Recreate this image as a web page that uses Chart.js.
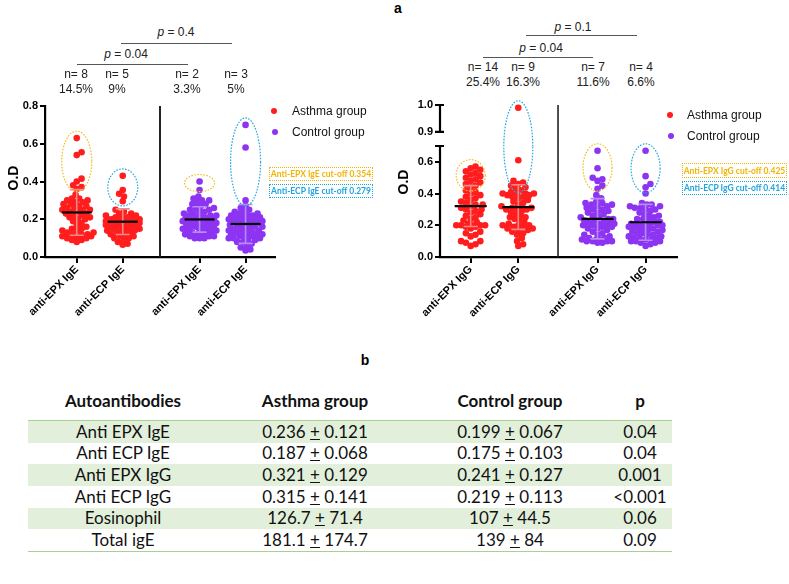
<!DOCTYPE html>
<html>
<head>
<meta charset="utf-8">
<script src="https://cdn.jsdelivr.net/npm/chart.js@4.4.1/dist/chart.umd.min.js"></script>
<style>
    body { margin: 0; width: 789px; height: 584px; position: relative; overflow: hidden; background: #fff;
           font-family: "Liberation Sans", Arial, sans-serif; color: #000; }
    canvas { position: absolute; }
    .abs { position: absolute; white-space: nowrap; }
    .mid { transform: translate(-50%, -50%); }
    .ann { font-size: 12px; color: #222; }
    .bracket { position: absolute; height: 0; border-top: 1.5px solid #555; }
    .panel { font-weight: bold; font-size: 14px; }
    .axis-title { font-weight: bold; font-size: 14px; transform: translate(-50%, -50%) rotate(-90deg); }
    .legend { font-size: 12px; color: #111; transform: translateY(-50%); }
    .dot { position: absolute; width: 6px; height: 6px; border-radius: 50%; transform: translate(-50%, -50%); }
    .cutoff { position: absolute; box-sizing: border-box; border: 1px dotted; font-family: Lato, sans-serif;
              font-weight: bold; font-size: 8.5px; white-space: nowrap; overflow: visible;
              display: flex; align-items: center; justify-content: center; }
    table { position: absolute; left: 28px; top: 388px; width: 644px; border-collapse: collapse;
            font-family: Lato, sans-serif; font-size: 17px; color: #111; }
    th { font-weight: bold; font-size: 17px; height: 24px; padding: 0 0 8px 0; border-bottom: 1px solid #a9d08e; }
    td { height: 21.67px; padding: 0; text-align: center; line-height: 20px; }
    tr.shade td { background: #e2efda; }
    tr:last-child td { border-bottom: 1px solid #a9d08e; }
</style>
</head>
<body>
<canvas id="igeChart" style="left:0px; top:95px;"></canvas>
<canvas id="iggChart" style="left:395px; top:94px;"></canvas>

<script>
// ---- table values (also used for the mean / SD marks) ----
const tableMarkers = ['Anti EPX IgE', 'Anti ECP IgE', 'Anti EPX IgG', 'Anti ECP IgG', 'Eosinophil', 'Total igE'];
const asthmaMeans = ['0.236', '0.187', '0.321', '0.315', '126.7', '181.1'];
const asthmaSds = ['0.121', '0.068', '0.129', '0.141', '71.4', '174.7'];
const controlMeans = ['0.199', '0.175', '0.241', '0.219', '107', '139'];
const controlSds = ['0.067', '0.103', '0.127', '0.113', '44.5', '84'];
const pValues = ['0.04', '0.04', '0.001', '<0.001', '0.06', '0.09'];

// ---- dot plot values (O.D) ----
const igeLabels = ['anti-EPX IgE', 'anti-ECP IgE', 'anti-EPX IgE', 'anti-ECP IgE'];
const iggLabels = ['anti-EPX IgG', 'anti-ECP IgG', 'anti-EPX IgG', 'anti-ECP IgG'];

const asthmaEpxIgE = [0.63, 0.555, 0.54, 0.415, 0.40, 0.38, 0.37, 0.36,
    0.33, 0.31, 0.31, 0.30, 0.30, 0.29, 0.29, 0.28, 0.28, 0.27, 0.27, 0.26, 0.26, 0.25, 0.25, 0.25,
    0.24, 0.24, 0.23, 0.23, 0.22, 0.22, 0.21, 0.21, 0.20, 0.20, 0.19, 0.18, 0.17, 0.16, 0.15, 0.15,
    0.14, 0.14, 0.13, 0.13, 0.12, 0.12, 0.12, 0.11, 0.11, 0.11, 0.10, 0.10, 0.09, 0.09, 0.08];
const asthmaEcpIgE = [0.43, 0.355, 0.335, 0.32, 0.295,
    0.25, 0.24, 0.23, 0.23, 0.22, 0.22, 0.21, 0.21, 0.21, 0.20, 0.20, 0.20, 0.20, 0.20,
    0.19, 0.19, 0.19, 0.19, 0.19, 0.19, 0.18, 0.18, 0.18, 0.18, 0.18, 0.17, 0.17, 0.17, 0.17,
    0.16, 0.16, 0.16, 0.15, 0.15, 0.15, 0.14, 0.14, 0.14, 0.13, 0.13, 0.12, 0.12, 0.11, 0.11,
    0.10, 0.10, 0.09, 0.08, 0.07, 0.065];
const controlEpxIgE = [0.40, 0.355,
    0.32, 0.31, 0.30, 0.30, 0.29, 0.28, 0.28, 0.27, 0.26, 0.26, 0.25, 0.25, 0.24, 0.24, 0.23, 0.23,
    0.22, 0.22, 0.22, 0.21, 0.21, 0.21, 0.20, 0.20, 0.20, 0.20, 0.20, 0.19, 0.19, 0.19, 0.19,
    0.18, 0.18, 0.18, 0.17, 0.17, 0.17, 0.16, 0.16, 0.16, 0.15, 0.15, 0.15, 0.14, 0.14, 0.14,
    0.13, 0.13, 0.13, 0.12, 0.12, 0.12, 0.11, 0.11, 0.11, 0.10, 0.10, 0.10];
const controlEcpIgE = [0.70, 0.58, 0.30,
    0.27, 0.26, 0.25, 0.24, 0.24, 0.23, 0.23, 0.22, 0.22, 0.22, 0.21, 0.21, 0.21, 0.20, 0.20, 0.20, 0.20,
    0.19, 0.19, 0.19, 0.18, 0.18, 0.18, 0.17, 0.17, 0.17, 0.16, 0.16, 0.16, 0.15, 0.15, 0.15,
    0.14, 0.14, 0.14, 0.13, 0.13, 0.13, 0.12, 0.12, 0.12, 0.12, 0.11, 0.11, 0.11, 0.10, 0.10, 0.10,
    0.09, 0.09, 0.08, 0.08, 0.07, 0.06, 0.05, 0.04, 0.035];

const asthmaEpxIgG = [0.57, 0.56, 0.55, 0.54, 0.53, 0.52, 0.51, 0.50, 0.49, 0.48, 0.47, 0.46, 0.45, 0.44,
    0.42, 0.41, 0.40, 0.39, 0.38, 0.37, 0.36, 0.35, 0.34, 0.33, 0.33, 0.32, 0.31, 0.30, 0.30,
    0.29, 0.28, 0.27, 0.26, 0.25, 0.24, 0.23, 0.22, 0.21, 0.20, 0.20, 0.20, 0.20, 0.20,
    0.19, 0.19, 0.18, 0.16, 0.15, 0.14, 0.13, 0.10, 0.10, 0.09, 0.08, 0.07];
const asthmaEcpIgG = [0.99, 0.61, 0.48, 0.47, 0.46, 0.45, 0.44, 0.43, 0.42,
    0.41, 0.40, 0.40, 0.40, 0.40, 0.39, 0.39, 0.38, 0.38, 0.37, 0.36, 0.35, 0.34, 0.33, 0.32, 0.31,
    0.31, 0.30, 0.30, 0.30, 0.29, 0.28, 0.27, 0.26, 0.25, 0.25, 0.24, 0.23, 0.22, 0.21,
    0.20, 0.20, 0.20, 0.19, 0.19, 0.18, 0.18, 0.17, 0.17, 0.16, 0.15, 0.14, 0.12, 0.10, 0.08, 0.07];
const controlEpxIgG = [0.67, 0.56, 0.50, 0.49, 0.48, 0.45, 0.43,
    0.39, 0.37, 0.35, 0.34, 0.34, 0.33, 0.33, 0.32, 0.32, 0.31, 0.30, 0.30, 0.29, 0.28, 0.28,
    0.27, 0.26, 0.25, 0.25, 0.24, 0.24, 0.23, 0.23, 0.22, 0.22, 0.21, 0.21, 0.21, 0.20, 0.20, 0.20, 0.20,
    0.19, 0.19, 0.18, 0.18, 0.17, 0.16, 0.15, 0.14, 0.14, 0.13, 0.12, 0.12, 0.11, 0.11, 0.11,
    0.10, 0.10, 0.10, 0.10, 0.09, 0.09];
const controlEcpIgG = [0.67, 0.51, 0.46, 0.44,
    0.40, 0.34, 0.33, 0.33, 0.32, 0.32, 0.31, 0.31, 0.30, 0.30, 0.29, 0.28, 0.27, 0.26, 0.26,
    0.25, 0.24, 0.24, 0.23, 0.22, 0.22, 0.22, 0.21, 0.21, 0.21, 0.20, 0.20, 0.20, 0.20,
    0.19, 0.19, 0.18, 0.18, 0.18, 0.17, 0.17, 0.16, 0.16, 0.15, 0.15, 0.14, 0.14, 0.13, 0.13,
    0.12, 0.12, 0.12, 0.11, 0.11, 0.10, 0.10, 0.10, 0.09, 0.09, 0.08, 0.07];

const igeCutoffs = [0.354, 0.279];   // EPX, ECP
const iggCutoffs = [0.425, 0.414];
const igeYTicks = [0, 0.2, 0.4, 0.6, 0.8];
const iggYTicksLow = [0, 0.2, 0.4, 0.6];
const iggYTicksHigh = [0.9, 1.0];

const igeAbove = [8, 5, 2, 3];
const igeAbovePct = ['14.5%', '9%', '3.3%', '5%'];
const iggAbove = [14, 9, 7, 4];
const iggAbovePct = ['25.4%', '16.3%', '11.6%', '6.6%'];

// ---- styling ----
const ASTHMA_RED = '#ff1d1d';
const CONTROL_PURPLE = '#8d34f2';
const ASTHMA_SD = '#ef8a8a';
const CONTROL_SD = '#b68cf3';
const EPX_GOLD = '#f5bd22';
const ECP_BLUE = '#25a8e2';
const SWARM_GAP = 4.8;
const SWARM_STEP = 1.2;
const SWARM_MAX = 17;

Chart.defaults.font.family = '"Liberation Sans", Arial, sans-serif';
Chart.defaults.color = '#000';

/**
 * Places the points of one group side by side (beeswarm) so they hide each other as little as possible.
 * Works in pixels, then converts back through the x scale.
 */
function swarmGroup(chart, values, center, breakAt) {
    const xs = chart.scales.x;
    const cx = xs.getPixelForValue(center);
    const order = values.map((v, i) => i).sort((a, b) => values[a] - values[b]);
    const placed = [];
    const low = [];
    const high = [];
    order.forEach(i => {
        const v = values[i];
        const onTop = v > breakAt;
        const py = (onTop ? chart.scales.yTop : chart.scales.y).getPixelForValue(v);
        let best = cx;
        let bestDist = -1;
        for (let k = 0; Math.ceil(k / 2) * SWARM_STEP <= SWARM_MAX; k++) {
            const tx = cx + (k % 2 ? 1 : -1) * Math.ceil(k / 2) * SWARM_STEP;
            let d = Infinity;
            placed.forEach(p => { d = Math.min(d, Math.hypot(p.x - tx, p.y - py)); });
            if (d >= SWARM_GAP) { best = tx; break; }
            if (d > bestDist) { bestDist = d; best = tx; }
        }
        placed.push({ x: best, y: py });
        (onTop ? high : low).push({ x: xs.getValueForPixel(best), y: v });
    });
    return { low, high };
}

// Draws the mean / SD bars, cut-off ellipses, separator and broken y axis
const dotPlotExtras = {
    id: 'dotPlotExtras',
    beforeDatasetsDraw(chart) {
        const o = chart.options.plugins.dotPlotExtras;
        const { ctx, chartArea } = chart;
        const sx = chart.scales.x.getPixelForValue(o.separatorAt);
        ctx.save();
        ctx.strokeStyle = '#222';
        ctx.lineWidth = o.separatorWidth;
        ctx.beginPath();
        ctx.moveTo(sx, chartArea.top);
        ctx.lineTo(sx, chartArea.bottom);
        ctx.stroke();
        ctx.restore();
    },
    afterDatasetsDraw(chart) {
        const o = chart.options.plugins.dotPlotExtras;
        const { ctx } = chart;
        const xs = chart.scales.x;
        const pix = v => (v > o.breakAt ? chart.scales.yTop : chart.scales.y).getPixelForValue(v);
        ctx.save();
        o.groups.forEach((values, i) => {
            const cx = xs.getPixelForValue(o.positions[i]);
            const mean = o.means[i];
            const sd = o.sds[i];
            // SD bar
            ctx.strokeStyle = i < 2 ? ASTHMA_SD : CONTROL_SD;
            ctx.lineWidth = 1.6;
            ctx.setLineDash([]);
            ctx.beginPath();
            ctx.moveTo(cx, pix(mean + sd));
            ctx.lineTo(cx, pix(mean - sd));
            [mean + sd, mean - sd].forEach(v => {
                ctx.moveTo(cx - 7, pix(v));
                ctx.lineTo(cx + 7, pix(v));
            });
            ctx.stroke();
            // mean line
            ctx.strokeStyle = '#000';
            ctx.lineWidth = 2.2;
            ctx.beginPath();
            ctx.moveTo(cx - o.meanHalf, pix(mean));
            ctx.lineTo(cx + o.meanHalf, pix(mean));
            ctx.stroke();
            // ellipse round the values above the cut-off
            const cutoff = o.cutoffs[i % 2];
            const top = pix(Math.max(...values)) - 7;
            const bottom = pix(cutoff) + 1.5;
            ctx.strokeStyle = i % 2 === 0 ? EPX_GOLD : ECP_BLUE;
            ctx.lineWidth = 1.2;
            ctx.setLineDash([1.6, 1.4]);
            ctx.beginPath();
            ctx.ellipse(cx, (top + bottom) / 2, o.ellipseHalf, Math.abs(bottom - top) / 2, 0, 0, Math.PI * 2);
            ctx.stroke();
        });
        ctx.restore();
    },
    afterDraw(chart) {
        const o = chart.options.plugins.dotPlotExtras;
        if (!o.brokenAxis) return;
        const { ctx } = chart;
        const ax = chart.chartArea.left;
        const y = chart.scales.y;
        const yTop = chart.scales.yTop;
        const segs = [[y.getPixelForValue(0), y.getPixelForValue(y.max)],
                      [yTop.getPixelForValue(iggYTicksHigh[0]), yTop.getPixelForValue(yTop.max)]];
        ctx.save();
        ctx.strokeStyle = '#000';
        ctx.lineWidth = 2.2;
        ctx.beginPath();
        segs.forEach(([b, t]) => {
            ctx.moveTo(ax, b + 1);
            ctx.lineTo(ax, t);
        });
        // caps at the ends of the break
        [segs[0][1], segs[1][0], segs[1][1]].forEach(py => {
            ctx.moveTo(ax - 5, py);
            ctx.lineTo(ax + 4, py);
        });
        ctx.stroke();
        ctx.restore();
    }
};

function yAxis(extra) {
    return Object.assign({
        type: 'linear',
        position: 'left',
        afterFit: s => { s.width = 45; },
        border: { display: true, color: '#000', width: 2.2 },
        grid: { drawOnChartArea: false, color: '#000', lineWidth: 2, tickLength: 5 },
        ticks: {
            font: { size: 11, weight: 'bold' },
            color: '#000',
            padding: 2,
            callback: v => Number(v).toFixed(1)
        }
    }, extra);
}

/**
 * Builds one scatter dot plot (two asthma groups, two control groups)
 */
function createDotPlot({ canvas, width, height, groups, labels, positions, xMax, separatorAt,
                         separatorWidth, means, sds, cutoffs, yScales, breakAt, meanHalf, ellipseHalf }) {
    canvas.width = width;
    canvas.height = height;
    const colors = [ASTHMA_RED, ASTHMA_RED, CONTROL_PURPLE, CONTROL_PURPLE];
    const datasets = [];
    groups.forEach((g, i) => {
        datasets.push({ label: labels[i], data: [], yAxisID: 'y', backgroundColor: colors[i],
                        borderWidth: 0, pointRadius: 3.3 });
        if (isFinite(breakAt)) {
            datasets.push({ label: labels[i], data: [], yAxisID: 'yTop', backgroundColor: colors[i],
                            borderWidth: 0, pointRadius: 3.3 });
        }
    });

    const chart = new Chart(canvas.getContext('2d'), {
        type: 'scatter',
        data: { datasets },
        options: {
            responsive: false,
            animation: false,
            events: [],
            clip: false,
            layout: { padding: { top: 11, right: 5, left: 0, bottom: 0 } },
            plugins: {
                legend: { display: false },
                tooltip: { enabled: false },
                dotPlotExtras: { groups, positions, separatorAt, separatorWidth, means, sds, cutoffs,
                                 breakAt, meanHalf, ellipseHalf, brokenAxis: isFinite(breakAt) }
            },
            scales: Object.assign({}, yScales, {
                x: {
                    type: 'linear',
                    min: 0,
                    max: xMax,
                    afterFit: s => { s.height = 83; },
                    afterBuildTicks: s => { s.ticks = positions.map(v => ({ value: v })); },
                    border: { display: true, color: '#000', width: 2.2 },
                    grid: { drawOnChartArea: false, color: '#000', lineWidth: 2, tickLength: 6 },
                    ticks: {
                        autoSkip: false,
                        maxRotation: 45,
                        minRotation: 45,
                        padding: 0,
                        font: { size: 11, weight: 'bold' },
                        color: '#000',
                        callback: (v, i) => labels[i]
                    }
                }
            })
        },
        plugins: [dotPlotExtras]
    });

    groups.forEach((values, i) => {
        const { low, high } = swarmGroup(chart, values, positions[i], breakAt);
        if (isFinite(breakAt)) {
            chart.data.datasets[i * 2].data = low;
            chart.data.datasets[i * 2 + 1].data = high;
        } else {
            chart.data.datasets[i].data = low;
        }
    });
    chart.update('none');
    return chart;
}

const igeMeans = [asthmaMeans[0], asthmaMeans[1], controlMeans[0], controlMeans[1]].map(Number);
const igeSds = [asthmaSds[0], asthmaSds[1], controlSds[0], controlSds[1]].map(Number);
const iggMeans = [asthmaMeans[2], asthmaMeans[3], controlMeans[2], controlMeans[3]].map(Number);
const iggSds = [asthmaSds[2], asthmaSds[3], controlSds[2], controlSds[3]].map(Number);

createDotPlot({
    canvas: document.getElementById('igeChart'),
    width: 280, height: 245,
    groups: [asthmaEpxIgE, asthmaEcpIgE, controlEpxIgE, controlEcpIgE],
    labels: igeLabels,
    positions: [0.69, 1.69, 3.36, 4.36],
    xMax: 5.0,
    separatorAt: 2.5,
    separatorWidth: 2,
    means: igeMeans, sds: igeSds, cutoffs: igeCutoffs,
    breakAt: Infinity,
    meanHalf: 15, ellipseHalf: 15,
    yScales: {
        y: yAxis({ min: 0, max: 0.8, afterBuildTicks: s => { s.ticks = igeYTicks.map(v => ({ value: v })); } })
    }
});

// the stack is laid out from the last defined scale at the top, so the low part goes first
createDotPlot({
    canvas: document.getElementById('iggChart'),
    width: 287, height: 246,
    groups: [asthmaEpxIgG, asthmaEcpIgG, controlEpxIgG, controlEcpIgG],
    labels: iggLabels,
    positions: [0.645, 1.645, 3.31, 4.32],
    xMax: 4.98,
    separatorAt: 2.48,
    separatorWidth: 1.6,
    means: iggMeans, sds: iggSds, cutoffs: iggCutoffs,
    breakAt: 0.7,
    meanHalf: 16, ellipseHalf: 14.5,
    yScales: {
        y: yAxis({ min: 0, max: 0.7, stack: 'od', stackWeight: 111, border: { display: false },
                   afterBuildTicks: s => { s.ticks = iggYTicksLow.map(v => ({ value: v })); } }),
        yTop: yAxis({ min: 0.848, max: 1.0, stack: 'od', stackWeight: 41, border: { display: false },
                      afterBuildTicks: s => { s.ticks = iggYTicksHigh.map(v => ({ value: v })); } })
    }
});

// ---- text annotations ----
function addEl(cls, html, x, y, style) {
    const d = document.createElement('div');
    d.className = cls;
    d.style.left = x + 'px';
    d.style.top = y + 'px';
    if (style) Object.assign(d.style, style);
    d.innerHTML = html;
    document.body.appendChild(d);
    return d;
}

addEl('abs panel mid', 'a', 398, 8);
addEl('abs panel mid', 'b', 365, 360);
addEl('abs axis-title', 'O.D', 13, 178);
addEl('abs axis-title', 'O.D', 403, 182);

const brackets = [
    { text: '<i>p</i> = 0.4', tx: 176, ty: 32, x1: 121, x2: 232, y: 43 },
    { text: '<i>p</i> = 0.04', tx: 126, ty: 54, x1: 77, x2: 188, y: 64 },
    { text: '<i>p</i> = 0.1', tx: 573, ty: 27, x1: 526, x2: 637, y: 35 },
    { text: '<i>p</i> = 0.04', tx: 541, ty: 48, x1: 483, x2: 593, y: 57 }
];
brackets.forEach(b => {
    addEl('abs ann mid', b.text, b.tx, b.ty);
    addEl('bracket', '', b.x1, b.y, { width: (b.x2 - b.x1) + 'px' });
});

[76, 117, 187, 236].forEach((x, i) => {
    addEl('abs ann mid', 'n= ' + igeAbove[i], x, 74);
    addEl('abs ann mid', igeAbovePct[i], x, 89);
});
[483, 523, 593, 641].forEach((x, i) => {
    addEl('abs ann mid', 'n= ' + iggAbove[i], x, 67);
    addEl('abs ann mid', iggAbovePct[i], x, 82);
});

[[274, 111, 292], [670, 115, 687]].forEach(([dx, dy, tx]) => {
    addEl('dot', '', dx, dy, { background: ASTHMA_RED });
    addEl('abs legend', 'Asthma group', tx, dy);
    addEl('dot', '', dx + 1, dy + 21, { background: CONTROL_PURPLE });
    addEl('abs legend', 'Control group', tx, dy + 21);
});

const cutoffBoxes = [
    { text: 'Anti-EPX IgE cut-off ' + igeCutoffs[0], x: 269, y: 167, w: 104, h: 14, c: '#f2b400' },
    { text: 'Anti-ECP IgE cut-off ' + igeCutoffs[1], x: 269, y: 184, w: 104, h: 14, c: '#1ea4e0' },
    { text: 'Anti-EPX IgG cut-off ' + iggCutoffs[0], x: 682, y: 163, w: 105, h: 15, c: '#f2b400' },
    { text: 'Anti-ECP IgG cut-off ' + iggCutoffs[1], x: 682, y: 181, w: 105, h: 14, c: '#1ea4e0' }
];
cutoffBoxes.forEach(b => {
    addEl('cutoff', b.text, b.x, b.y, { width: b.w + 'px', height: b.h + 'px', color: b.c, borderColor: b.c });
});

// ---- table b ----
const table = document.createElement('table');
let html = '<colgroup><col style="width:190px"><col style="width:194px"><col style="width:196px"><col style="width:64px"></colgroup>';
html += '<tr><th>Autoantibodies</th><th>Asthma group</th><th>Control group</th><th>p</th></tr>';
tableMarkers.forEach((m, i) => {
    html += '<tr class="' + (i % 2 === 0 ? 'shade' : '') + '"><td>' + m + '</td>' +
        '<td>' + asthmaMeans[i] + ' <u>+</u> ' + asthmaSds[i] + '</td>' +
        '<td>' + controlMeans[i] + ' <u>+</u> ' + controlSds[i] + '</td>' +
        '<td>' + pValues[i] + '</td></tr>';
});
table.innerHTML = html;
document.body.appendChild(table);
</script>
</body>
</html>
